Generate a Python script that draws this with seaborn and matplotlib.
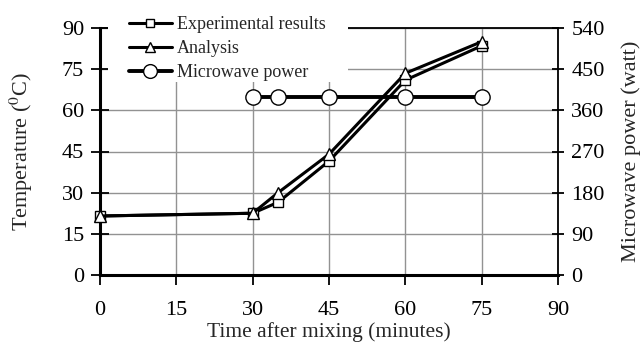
import matplotlib
matplotlib.use("Agg")
import matplotlib.pyplot as plt
import seaborn as sns
import pandas as pd
from matplotlib.patches import Rectangle

# Data
time_exp = [0, 30, 35, 45, 60, 75]
temp_exp = [21.5, 22.5, 26.5, 41.5, 71.0, 83.5]
time_ana = [0, 30, 35, 45, 60, 75]
temp_ana = [21.5, 22.5, 30.0, 44.0, 73.5, 85.0]
time_pow = [30, 35, 45, 60, 75]
power = [390, 390, 390, 390, 390]

x_ticks = [0, 15, 30, 45, 60, 75, 90]
y_ticks = [0, 15, 30, 45, 60, 75, 90]
y2_ticks = [0, 90, 180, 270, 360, 450, 540]

sns.set_theme(style="white")
plt.rcParams['font.family'] = ['Liberation Serif', 'DejaVu Serif']
plt.rcParams['mathtext.fontset'] = 'stix'

fig = plt.figure(figsize=(6.4, 3.45), dpi=100)
ax = fig.add_axes([100/640, 1-275/345, 458/640, 247/345])
ax2 = ax.twinx()

df_exp = pd.DataFrame({"t": time_exp, "v": temp_exp})
df_ana = pd.DataFrame({"t": time_ana, "v": temp_ana})
df_pow = pd.DataFrame({"t": time_pow, "v": power})

sns.lineplot(data=df_exp, x="t", y="v", ax=ax, color="black", linewidth=2.2,
             marker="s", markersize=7, markerfacecolor="white",
             markeredgecolor="black", markeredgewidth=1.0, zorder=4,
             label="Experimental results", legend=False, clip_on=False)
sns.lineplot(data=df_ana, x="t", y="v", ax=ax, color="black", linewidth=2.2,
             marker="^", markersize=8, markerfacecolor="white",
             markeredgecolor="black", markeredgewidth=1.0, zorder=5,
             label="Analysis", legend=False, clip_on=False)
sns.lineplot(data=df_pow, x="t", y="v", ax=ax2, color="black", linewidth=2.8,
             marker="o", markersize=11, markerfacecolor="white",
             markeredgecolor="black", markeredgewidth=1.0, zorder=4,
             label="Microwave power", legend=False, clip_on=False)

ax.set_xlim(0, 90)
ax.set_ylim(0, 90)
ax2.set_ylim(0, 540)
ax.set_xticks(x_ticks)
ax.set_yticks(y_ticks)
ax2.set_yticks(y2_ticks)

ax.grid(True, color="#929292", linewidth=1.0)
ax.set_axisbelow(True)

for s in ["top", "right"]:
    ax.spines[s].set_visible(False)
ax.spines["left"].set_linewidth(2.2)
ax.spines["bottom"].set_linewidth(2.2)
for s in ["left", "bottom"]:
    ax.spines[s].set_color("black")
    ax2.spines[s].set_visible(False)
ax2.spines["right"].set_linewidth(1.3)
ax2.spines["top"].set_linewidth(1.3)
ax2.spines["right"].set_color("black")
ax2.spines["top"].set_color("black")

ax.tick_params(axis="y", direction="inout", length=13, width=1.3, pad=5,
               labelsize=16, colors="black", left=True)
ax.tick_params(axis="x", direction="out", length=7, width=1.3, pad=12,
               labelsize=16, colors="black", bottom=True)
ax2.tick_params(axis="y", direction="inout", length=9, width=1.3, pad=5,
                labelsize=16, colors="black", right=True)

ax.set_xlabel("Time after mixing (minutes)", fontsize=15.5, labelpad=1.5)
ax.set_ylabel("Temperature ($^{0}$C)", fontsize=16, labelpad=19)
ax2.set_ylabel("Microwave power (watt)", fontsize=16, labelpad=12)

# white legend area
ax2.add_patch(Rectangle((0.017, 0.78), 0.525, 0.25, transform=ax2.transAxes,
                        facecolor="white", edgecolor="none", zorder=3,
                        clip_on=False))

h1, l1 = ax.get_legend_handles_labels()
h2, l2 = ax2.get_legend_handles_labels()
leg = ax2.legend(h1 + h2, l1 + l2, loc="upper left",
                 bbox_to_anchor=(0.035, 1.10), frameon=False, fontsize=13,
                 handlelength=2.4, handletextpad=0.25, labelspacing=0.4,
                 borderpad=0.2, markerscale=0.9)
leg.set_zorder(6)

fig.savefig("out.png", dpi=100)
